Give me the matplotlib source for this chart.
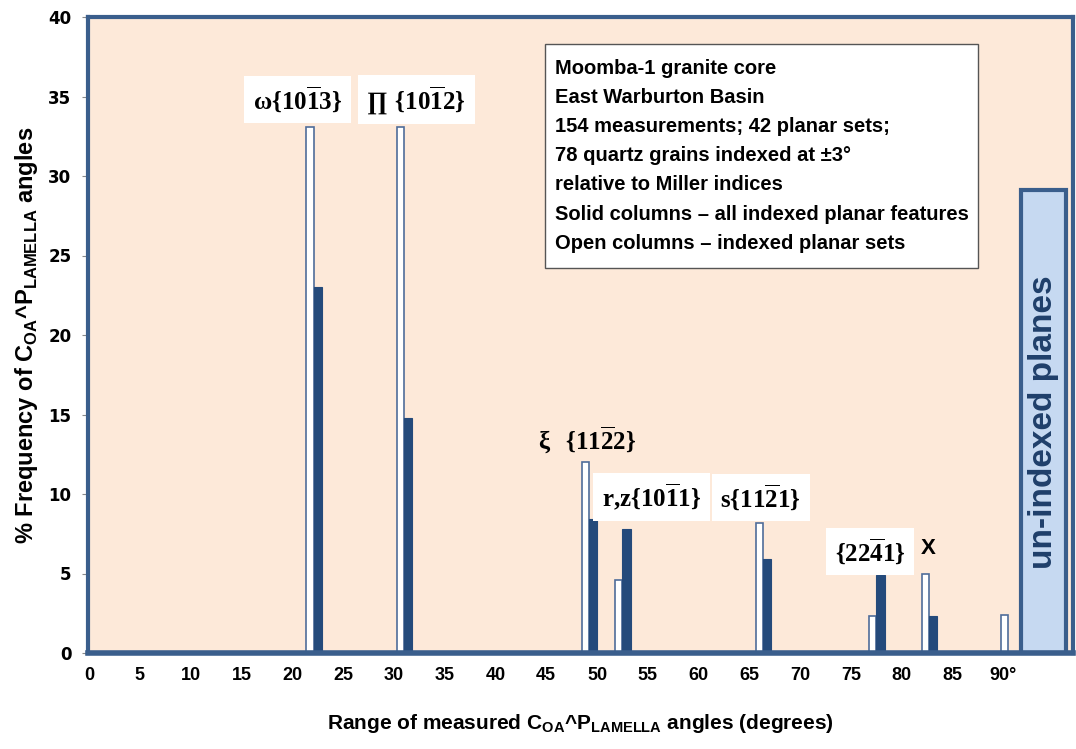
import matplotlib
matplotlib.use("Agg")
import matplotlib.pyplot as plt
from matplotlib.patches import Rectangle
from matplotlib import font_manager

# bar positions (degrees) and % frequencies
pair_angles = [22.1, 31.0, 49.2, 52.5, 66.3, 77.5, 82.7]
open_vals = [33.1, 33.1, 12.0, 4.6, 8.2, 2.3, 5.0]   # indexed planar sets
solid_vals = [23.0, 14.8, 8.4, 7.8, 5.9, 4.9, 2.3]   # all indexed planar features
extra_open_angle = 90.5
extra_open_val = 2.4
unindexed_val = 29.1

xtick_vals = list(range(0, 95, 5))
xtick_labels = [str(v) for v in xtick_vals[:-1]] + ["90\u00b0"]

info_lines = [
    "Moomba-1 granite core",
    "East Warburton Basin",
    "154 measurements; 42 planar sets;",
    "78 quartz grains indexed at \u00b13\u00b0",
    "relative to Miller indices",
    "Solid columns \u2013 all indexed planar features",
    "Open columns \u2013 indexed planar sets",
]

names = {f.name for f in font_manager.fontManager.ttflist}
narrow = "Liberation Sans Narrow" if "Liberation Sans Narrow" in names else "Liberation Sans"

plt.rcParams["mathtext.fontset"] = "custom"
plt.rcParams["mathtext.rm"] = "Liberation Serif:bold"
plt.rcParams["mathtext.bf"] = narrow + ":bold"

peach = "#FDE9D9"
navy = "#244A7B"
edge = "#3A5E8C"

fig = plt.figure(figsize=(10.76, 7.49), dpi=100)
ax = fig.add_axes([88 / 1076, 96 / 749, 985 / 1076, 636 / 749])
ax.set_facecolor(peach)

w = 0.7
ax.bar([a - w / 2 for a in pair_angles], open_vals, width=w, color="white",
       edgecolor="#4F6D9A", linewidth=1.2, zorder=2)
ax.bar([a + w / 2 + 0.05 for a in pair_angles], solid_vals, width=w + 0.1,
       color=navy, edgecolor=navy, linewidth=0.8, zorder=2)
ax.bar(extra_open_angle - w / 2, extra_open_val, width=w, color="white",
       edgecolor="#4F6D9A", linewidth=1.2, zorder=2)
ax.bar(93.95, unindexed_val, width=4.4, color="#C6D9F1", edgecolor=edge,
       linewidth=3, zorder=2)

ax.set_xlim(-0.1, 96.85)
ax.set_ylim(0, 40)
for s in ax.spines.values():
    s.set_color(edge)
    s.set_linewidth(3)
ax.spines["bottom"].set_linewidth(4)

ax.set_xticks(xtick_vals)
ax.set_xticklabels(xtick_labels, fontfamily=narrow, fontweight="bold", fontsize=13)
ax.tick_params(axis="x", length=0, pad=10)
ax.set_yticks(range(0, 45, 5))
ax.tick_params(axis="y", length=4, color="#888888", pad=8, labelsize=12)
for lab in ax.get_yticklabels():
    lab.set_fontweight("bold")
    lab.set_fontfamily("DejaVu Sans")

ax.set_ylabel(r"% Frequency of C$_{\mathbf{OA}}$^P$_{\mathbf{LAMELLA}}$ angles",
              fontfamily=narrow, fontweight="bold", fontsize=17, labelpad=6)
ax.set_xlabel(r"Range of measured C$_{\mathbf{OA}}$^P$_{\mathbf{LAMELLA}}$ angles (degrees)",
              fontfamily=narrow, fontweight="bold", fontsize=15, labelpad=20)

box = dict(facecolor="white", edgecolor="none", boxstyle="square,pad=0.35")
lbl = dict(ha="center", va="center", fontsize=18, zorder=4)
ax.text(20.5, 34.8, r"$\mathrm{\omega\{10\overline{1}3\}}$", bbox=box, **lbl)
ax.text(32.2, 34.8, r"$\mathrm{\prod\ \{10\overline{1}2\}}$", bbox=box, **lbl)
ax.text(49.0, 13.4, r"$\mathrm{\xi\ \ \{11\overline{2}2\}}$", **lbl)
ax.text(55.4, 9.8, r"$\mathrm{r{,}z\{10\overline{1}1\}}$", bbox=box, **lbl)
ax.text(66.1, 9.8, r"$\mathrm{s\{11\overline{2}1\}}$", bbox=box, **lbl)
ax.text(76.9, 6.4, r"$\mathrm{\{22\overline{4}1\}}$", bbox=box, **lbl)
ax.text(82.6, 6.6, "X", ha="center", va="center", fontsize=16,
        fontweight="bold", fontfamily="Liberation Sans", zorder=4)
ax.text(93.95, 14.5, "un-indexed planes", rotation=90, ha="center", va="center",
        color="#1F3F6A", fontsize=24, fontweight="bold", fontfamily=narrow, zorder=4)

# info box
fig.patches.append(Rectangle((545 / 1076, 1 - 268 / 749), 433 / 1076, 224 / 749,
                             transform=fig.transFigure, facecolor="white",
                             edgecolor="#555555", linewidth=1.0, zorder=5))
for i, line in enumerate(info_lines):
    fig.text(555 / 1076, 1 - (68 + i * 29.2) / 749, line, ha="left", va="center",
             fontsize=14.5, fontweight="bold", fontfamily=narrow, zorder=6)

fig.savefig("out.png", dpi=100)
